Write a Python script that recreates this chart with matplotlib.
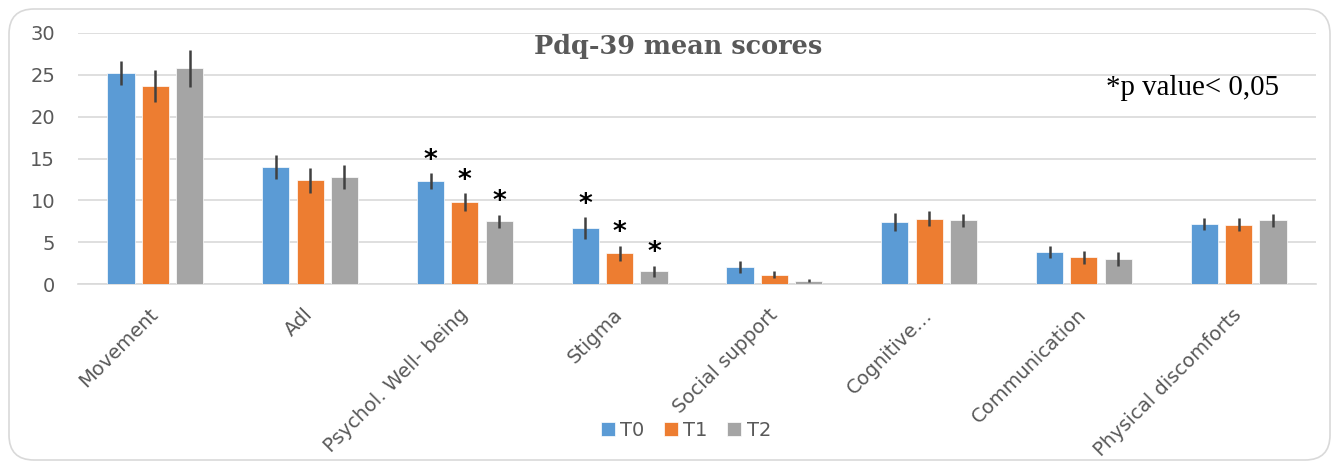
import matplotlib.pyplot as plt
import numpy as np
from matplotlib.patches import FancyBboxPatch

# data
categories = ["Movement", "Adl", "Psychol. Well- being", "Stigma", "Social support",
              "Cognitive…", "Communication", "Physical discomforts"]
series_names = ["T0", "T1", "T2"]
t0_means = [25.2, 14.0, 12.3, 6.7, 2.0, 7.4, 3.8, 7.2]
t1_means = [23.7, 12.4, 9.8, 3.7, 1.1, 7.8, 3.2, 7.1]
t2_means = [25.8, 12.8, 7.5, 1.5, 0.4, 7.6, 3.0, 7.6]
t0_err = [1.4, 1.4, 1.0, 1.3, 0.7, 1.1, 0.7, 0.7]
t1_err = [1.9, 1.5, 1.1, 0.9, 0.4, 0.9, 0.8, 0.8]
t2_err = [2.2, 1.4, 0.8, 0.7, 0.2, 0.8, 0.8, 0.8]
# categories with significant change (asterisk on every bar)
significant = ["Psychol. Well- being", "Stigma"]

colors = ["#5b9bd5", "#ed7d31", "#a5a5a5"]
grey = "#595959"

fig = plt.figure(figsize=(13.38, 4.63), dpi=100)
ax = fig.add_axes([78 / 1338, (463 - 284) / 463, (1316 - 78) / 1338, (284 - 33) / 463])

# rounded frame around the chart (inches, so the corners stay round)
frame = FancyBboxPatch((0.09, 0.03), 13.21, 4.51,
                       boxstyle="round,pad=0,rounding_size=0.25",
                       transform=fig.dpi_scale_trans, facecolor="none",
                       edgecolor="#d9d9d9", linewidth=1.2, clip_on=False)
fig.patches.append(frame)

x = np.arange(len(categories))
width = 0.175
step = 0.222
means = [t0_means, t1_means, t2_means]
errs = [t0_err, t1_err, t2_err]
for i, (m, e) in enumerate(zip(means, errs)):
    pos = x + (i - 1) * step
    ax.bar(pos, m, width, color=colors[i], label=series_names[i], zorder=3,
           edgecolor="white", linewidth=0.5)
    ax.errorbar(pos, m, yerr=e, fmt="none", ecolor="#404040", elinewidth=1.8,
                capsize=0, zorder=4)
    for j, cat in enumerate(categories):
        if cat in significant:
            ax.text(pos[j], m[j] + e[j] - 0.1, "*", ha="center", va="bottom",
                    fontsize=19, fontweight="bold", color="black", zorder=5)

ax.set_xlim(-0.5, len(categories) - 0.5)
ax.set_ylim(0, 30)
ax.set_yticks(range(0, 31, 5))
ax.yaxis.grid(True, color="#d9d9d9", linewidth=1.2, zorder=0)
ax.set_axisbelow(True)
for s in ["top", "right", "left"]:
    ax.spines[s].set_visible(False)
ax.spines["bottom"].set_color("#d9d9d9")
ax.spines["bottom"].set_linewidth(1.2)
ax.tick_params(axis="both", length=0, colors=grey, labelsize=14)
ax.tick_params(axis="y", pad=16.5)
ax.set_xticks(x)
ax.set_xticklabels(categories, rotation=45, ha="right", va="center",
                   rotation_mode="anchor", fontsize=14, color=grey)
ax.tick_params(axis="x", pad=20)

ax.text(0.485, 0.945, "Pdq-39 mean scores", transform=ax.transAxes, ha="center",
        va="center", fontsize=18.4, fontweight="bold", color=grey,
        family="DejaVu Serif")
ax.text(0.97, 0.78, "*p value< 0,05", transform=ax.transAxes, ha="right",
        va="center", fontsize=20.8, color="black", family="Liberation Serif")

fig.legend(loc="center", bbox_to_anchor=(686 / 1338, 1 - 430 / 463), ncol=3,
           frameon=False, fontsize=14, handlelength=0.7, handleheight=0.7,
           handletextpad=0.3, columnspacing=1.0, labelcolor=grey)

fig.savefig("out.png", dpi=100)
